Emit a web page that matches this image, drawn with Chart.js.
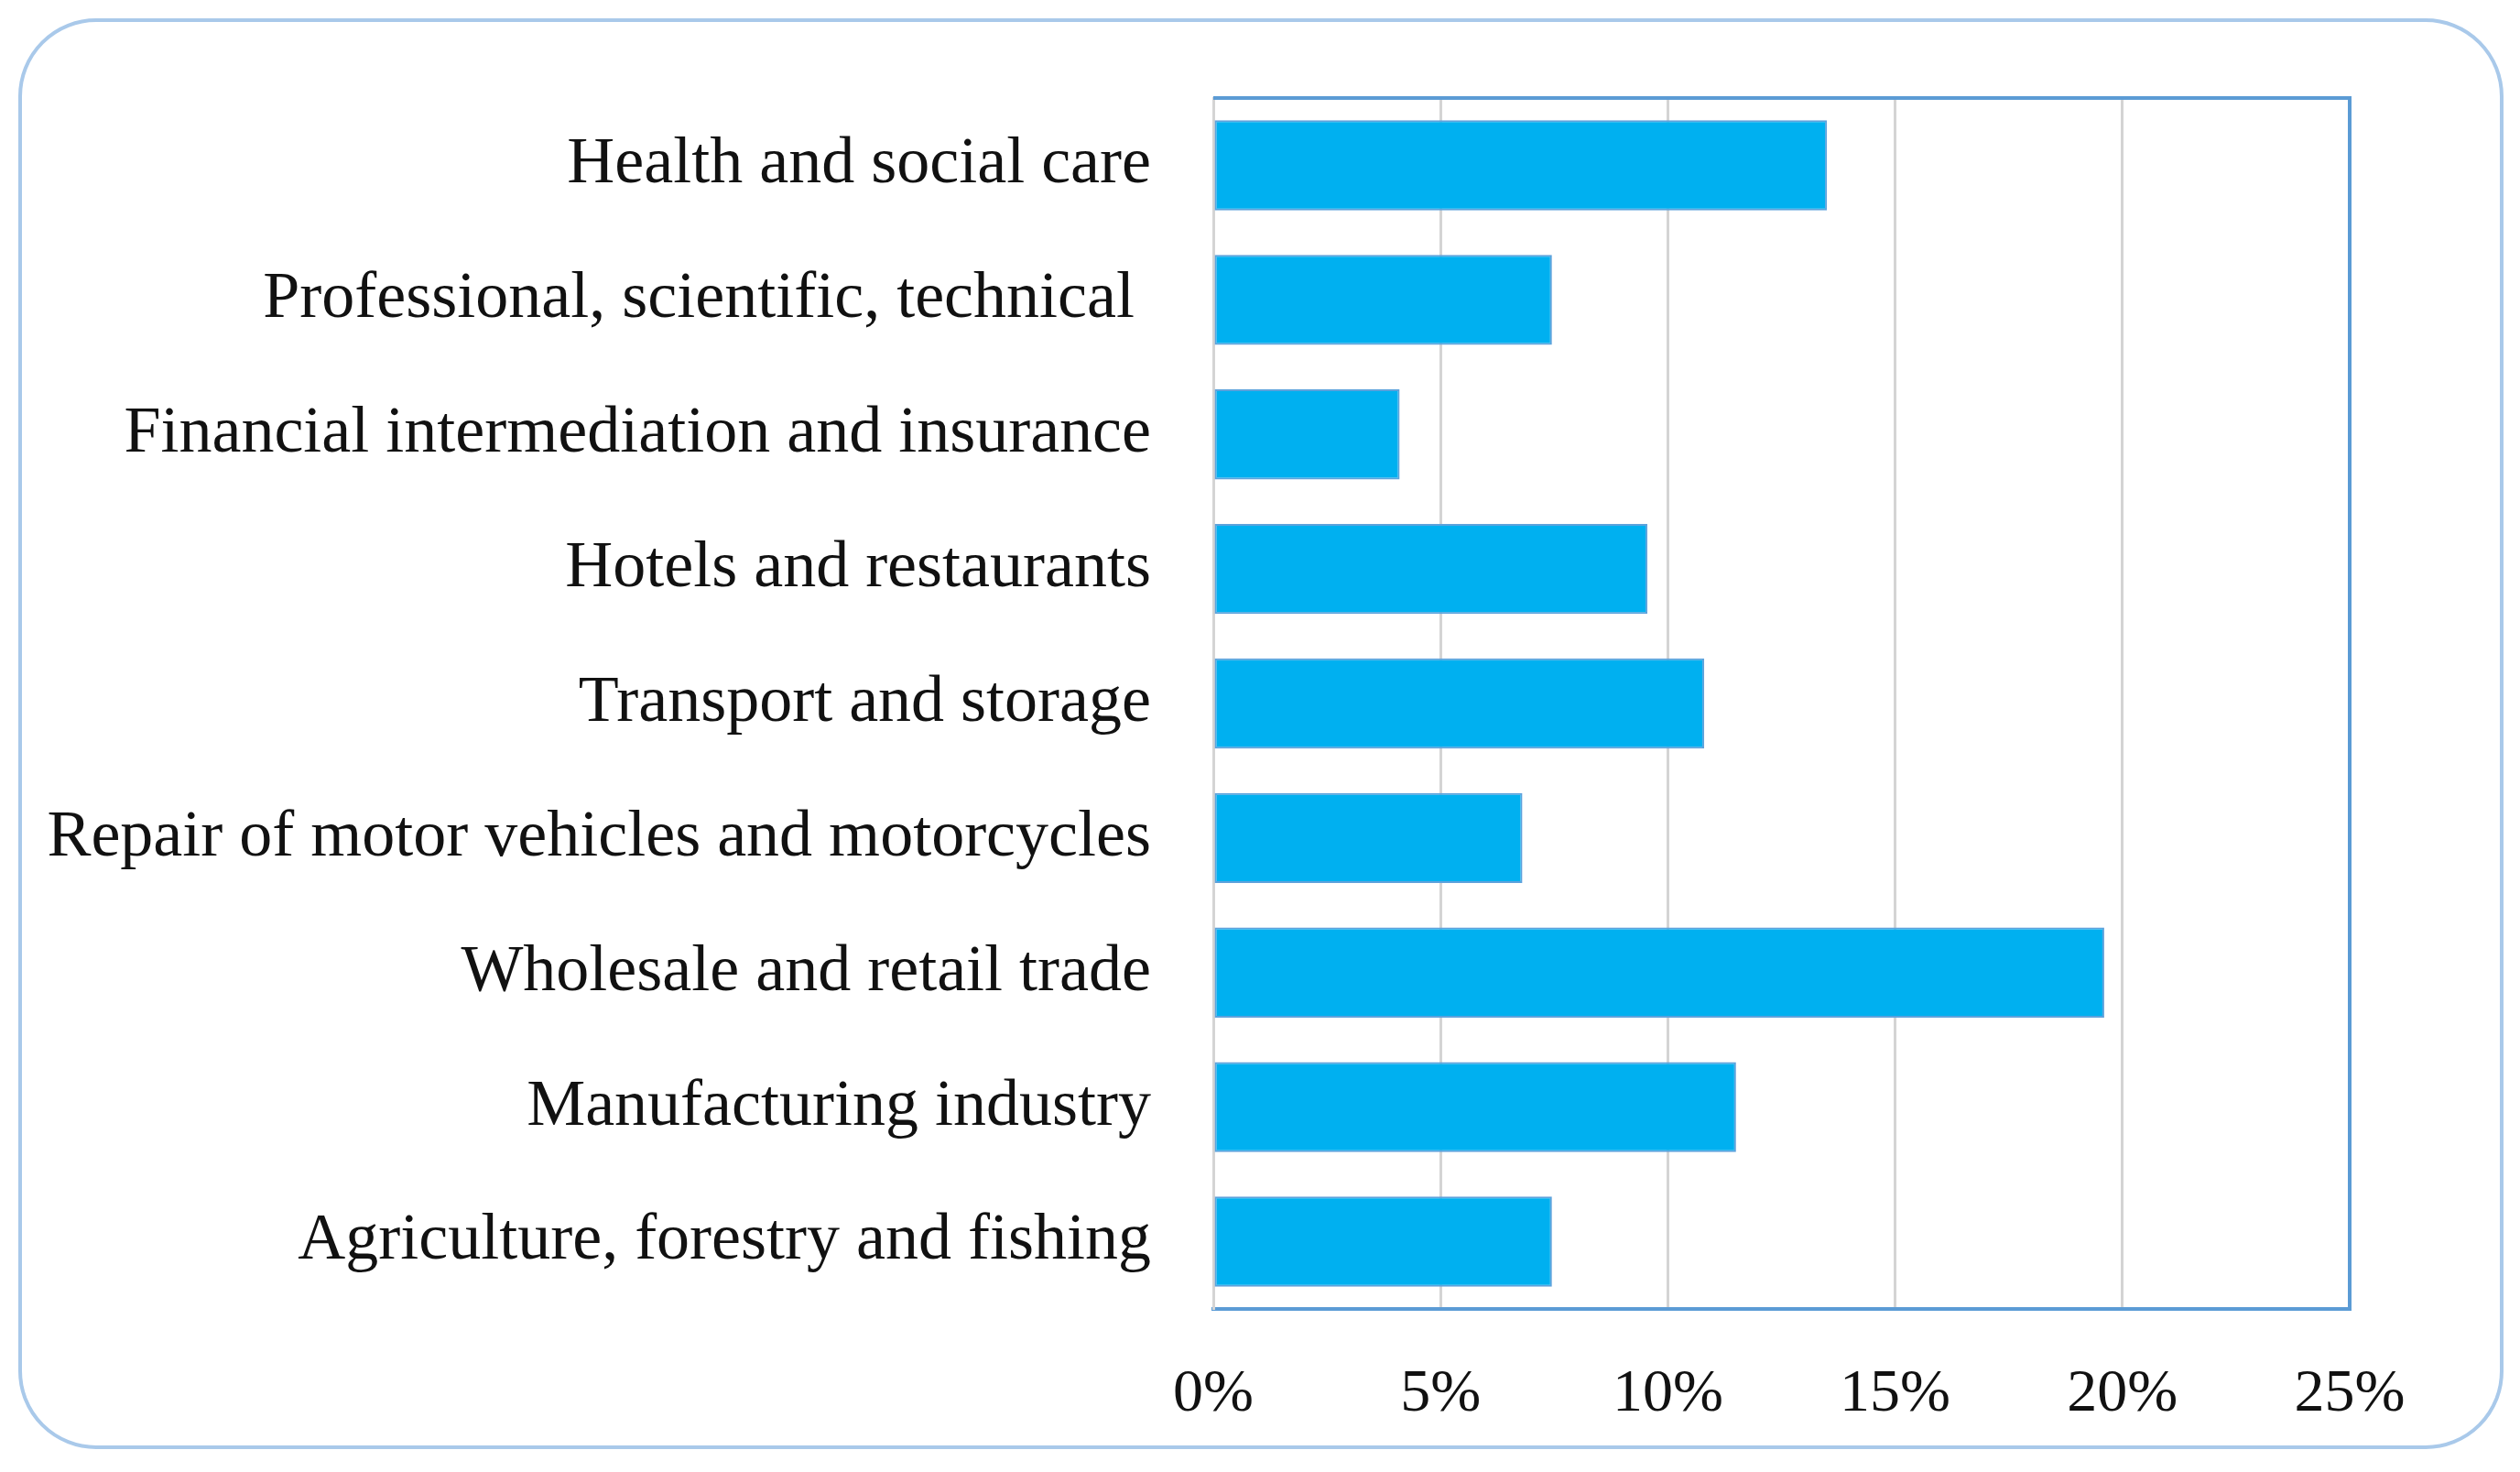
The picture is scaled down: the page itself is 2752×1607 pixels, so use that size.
<!DOCTYPE html>
<html>
<head>
<meta charset="utf-8">
<script src="https://cdn.jsdelivr.net/npm/chart.js@4"></script>
<style>
  html, body { margin: 0; padding: 0; background: #fff; }
  #wrap { position: relative; width: 2752px; height: 1607px; }
  #frame {
    position: absolute; left: 20px; top: 20px; width: 2714px; height: 1562px;
    border: 4px solid #a9c9ea; border-radius: 85px; box-sizing: border-box;
  }
  #chart { position: absolute; left: 0; top: 0; }
</style>
</head>
<body>
<div id="wrap">
  <div id="frame"></div>
  <canvas id="chart" width="2752" height="1607"></canvas>
</div>
<script>
// data (share of firms, %)
const sectors = [
    'Health and social care',
    'Professional, scientific, technical ',
    'Financial intermediation and insurance',
    'Hotels and restaurants',
    'Transport and storage',
    'Repair of motor vehicles and motorcycles',
    'Wholesale and retail trade',
    'Manufacturing industry',
    'Agriculture, forestry and fishing'
];
const shares = [13.5, 7.45, 4.1, 9.55, 10.8, 6.8, 19.6, 11.5, 7.45];
const xMin = 0;
const xMax = 25;
const xStep = 5;

const FONT = "'Liberation Serif', 'Times New Roman', serif";

// top and right edges of the plot box (blue like the bottom axis)
const plotBox = {
    id: 'plotBox',
    afterDraw(chart) {
        const { ctx, chartArea: a } = chart;
        ctx.save();
        ctx.strokeStyle = '#5b9bd5';
        ctx.lineWidth = 4;
        ctx.beginPath();
        ctx.moveTo(a.left, a.top);
        ctx.lineTo(a.right, a.top);
        ctx.lineTo(a.right, a.bottom);
        ctx.stroke();
        ctx.restore();
    }
};

new Chart(document.getElementById('chart'), {
    type: 'bar',
    data: {
        labels: sectors,
        datasets: [{
            data: shares,
            backgroundColor: '#00b0f0',
            borderColor: '#5da2dc',
            borderWidth: 2,
            borderSkipped: false,
            barPercentage: 0.67,
            categoryPercentage: 1
        }]
    },
    options: {
        indexAxis: 'y',
        responsive: false,
        devicePixelRatio: 1,
        animation: false,
        layout: { padding: { top: 107, right: 186, bottom: 0, left: 0 } },
        plugins: { legend: { display: false }, tooltip: { enabled: false } },
        scales: {
            x: {
                min: xMin, max: xMax,
                grid: { color: '#d4d4d4', lineWidth: 3, drawTicks: false },
                border: { color: '#5b9bd5', width: 4 },
                ticks: {
                    stepSize: xStep, padding: 54, color: '#111',
                    font: { family: FONT, size: 66 },
                    callback: v => v + '%'
                },
                afterFit(axis) { axis.height = 178; }
            },
            y: {
                grid: { display: false, drawTicks: false },
                border: { color: '#d4d4d4', width: 3 },
                ticks: {
                    padding: 68, color: '#111',
                    font: { family: FONT, size: 72 }
                },
                afterFit(axis) {
                    axis.width = 1325;
                    axis.paddingTop = 0;
                    axis.paddingBottom = 0;
                }
            }
        }
    },
    plugins: [plotBox]
});
</script>
</body>
</html>
